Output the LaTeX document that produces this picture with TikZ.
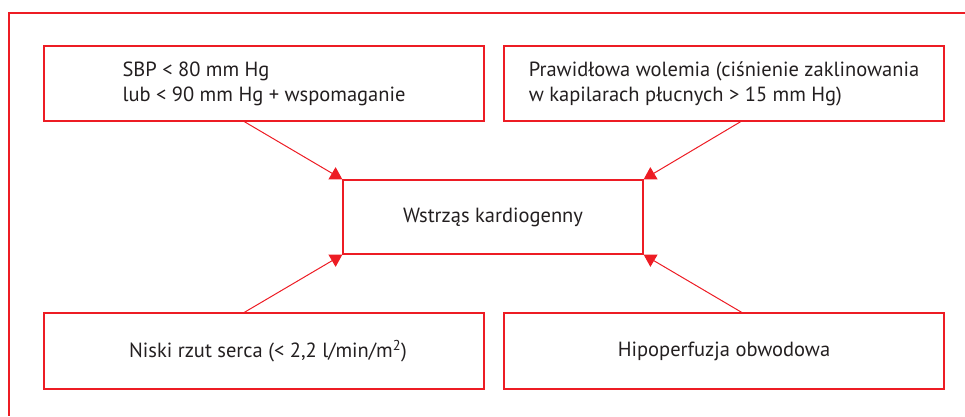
\documentclass[tikz,border=0pt]{standalone}
\usepackage{fontspec}
\setmainfont{PT Sans}
\usetikzlibrary{arrows.meta,calc}
\definecolor{frred}{HTML}{ED1C24}
\definecolor{txt}{HTML}{231F20}
\begin{document}
\begin{tikzpicture}[x=1pt,y=-1pt,
  box/.style={draw=frred,line width=1.3pt,rectangle,inner sep=0pt,text=txt,
    font=\fontsize{20.5}{25}\selectfont,align=left},
  arr/.style={draw=frred,line width=1pt,-{Triangle[length=12pt,width=14pt]}}]
\useasboundingbox (0,0) rectangle (965,416);
\draw[frred,line width=1.2pt] (965,13) -- (9,13) -- (9,416);
\node[box,minimum width=440pt,minimum height=75pt] (tl) at (264,83.5)
  {SBP < 80 mm Hg\\lub < 90 mm Hg + wspomaganie};
\node[box,minimum width=440pt,minimum height=75pt] (tr) at (724,83.5)
  {Prawidłowa wolemia (ciśnienie zaklinowania\\w kapilarach płucnych > 15 mm Hg)};
\node[box,minimum width=300pt,minimum height=74pt] (c) at (493,217)
  {Wstrząs kardiogenny};
\node[box,minimum width=440pt,minimum height=76pt] (bl) at (264,351)
  {\hspace*{8pt}Niski rzut serca (< 2,2 l/min/m\textsuperscript{2})};
\node[box,minimum width=440pt,minimum height=76pt] (br) at (724,351)
  {Hipoperfuzja obwodowa};
\draw[arr] ([xshift=201pt]tl.south west) -- (c.north west);
\draw[arr] ([xshift=-204pt]tr.south east) -- (c.north east);
\draw[arr] ([xshift=201pt]bl.north west) -- (c.south west);
\draw[arr] ([xshift=-203pt]br.north east) -- (c.south east);
\end{tikzpicture}
\end{document}
